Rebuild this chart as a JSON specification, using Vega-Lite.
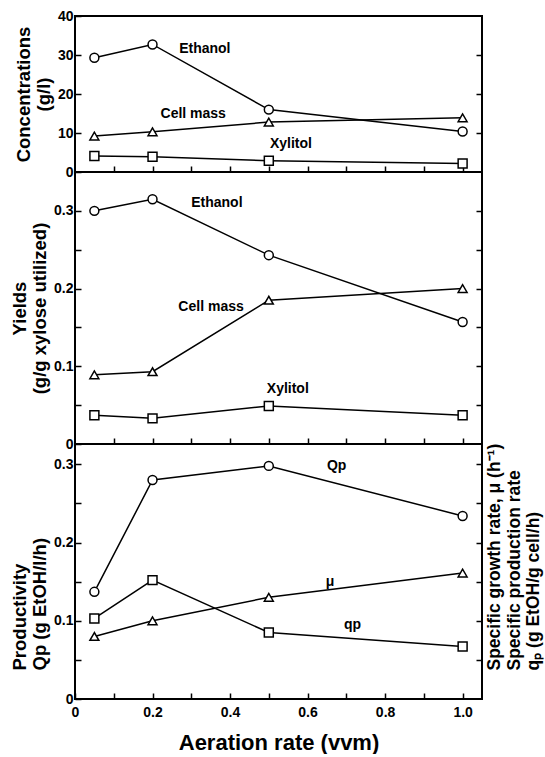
{
  "$schema": "https://vega.github.io/schema/vega-lite/v6.json",
  "background": "white",
  "padding": {"left": 9, "top": 8, "right": 2, "bottom": 0},
  "spacing": 0,
  "bounds": "flush",
  "config": {
    "font": "Liberation Sans",
    "view": {"stroke": "black", "strokeWidth": 2},
    "axis": {
      "domain": false,
      "grid": false,
      "tickColor": "black",
      "tickWidth": 1.5,
      "tickSize": -6,
      "labelFont": "Liberation Sans",
      "labelFontWeight": "bold",
      "labelFontSize": 14,
      "labelColor": "black",
      "labelPadding": 8,
      "labelFlush": false,
      "labelOverlap": false,
      "titleFont": "Liberation Sans",
      "titleFontWeight": "bold",
      "titleFontSize": 18.5,
      "titleColor": "black",
      "titleLineHeight": 20,
      "titlePadding": 4
    },
    "text": {"font": "Liberation Sans", "fontWeight": "bold", "fontSize": 14, "color": "black"}
  },
  "datasets": {
    "concentrations": [
      {"aeration": 0.05, "series": "Ethanol", "value": 29.3},
      {"aeration": 0.2, "series": "Ethanol", "value": 32.7},
      {"aeration": 0.5, "series": "Ethanol", "value": 16.0},
      {"aeration": 1.0, "series": "Ethanol", "value": 10.4},
      {"aeration": 0.05, "series": "Cell mass", "value": 9.2},
      {"aeration": 0.2, "series": "Cell mass", "value": 10.3},
      {"aeration": 0.5, "series": "Cell mass", "value": 12.8},
      {"aeration": 1.0, "series": "Cell mass", "value": 13.9},
      {"aeration": 0.05, "series": "Xylitol", "value": 4.1},
      {"aeration": 0.2, "series": "Xylitol", "value": 3.9},
      {"aeration": 0.5, "series": "Xylitol", "value": 2.9},
      {"aeration": 1.0, "series": "Xylitol", "value": 2.2}
    ],
    "concentration_labels": [
      {"aeration": 0.335, "value": 31.5, "label": "Ethanol"},
      {"aeration": 0.305, "value": 14.8, "label": "Cell mass"},
      {"aeration": 0.557, "value": 7.1, "label": "Xylitol"}
    ],
    "yields": [
      {"aeration": 0.05, "series": "Ethanol", "value": 0.300},
      {"aeration": 0.2, "series": "Ethanol", "value": 0.315},
      {"aeration": 0.5, "series": "Ethanol", "value": 0.243},
      {"aeration": 1.0, "series": "Ethanol", "value": 0.157},
      {"aeration": 0.05, "series": "Cell mass", "value": 0.089},
      {"aeration": 0.2, "series": "Cell mass", "value": 0.093},
      {"aeration": 0.5, "series": "Cell mass", "value": 0.185},
      {"aeration": 1.0, "series": "Cell mass", "value": 0.200},
      {"aeration": 0.05, "series": "Xylitol", "value": 0.037},
      {"aeration": 0.2, "series": "Xylitol", "value": 0.033},
      {"aeration": 0.5, "series": "Xylitol", "value": 0.049},
      {"aeration": 1.0, "series": "Xylitol", "value": 0.037}
    ],
    "yield_labels": [
      {"aeration": 0.366, "value": 0.31, "label": "Ethanol"},
      {"aeration": 0.351, "value": 0.176, "label": "Cell mass"},
      {"aeration": 0.549, "value": 0.071, "label": "Xylitol"}
    ],
    "productivity": [
      {"aeration": 0.05, "series": "Qp", "value": 0.137},
      {"aeration": 0.2, "series": "Qp", "value": 0.280},
      {"aeration": 0.5, "series": "Qp", "value": 0.298},
      {"aeration": 1.0, "series": "Qp", "value": 0.234},
      {"aeration": 0.05, "series": "mu", "value": 0.080},
      {"aeration": 0.2, "series": "mu", "value": 0.100},
      {"aeration": 0.5, "series": "mu", "value": 0.130},
      {"aeration": 1.0, "series": "mu", "value": 0.161},
      {"aeration": 0.05, "series": "qp", "value": 0.103},
      {"aeration": 0.2, "series": "qp", "value": 0.152},
      {"aeration": 0.5, "series": "qp", "value": 0.085},
      {"aeration": 1.0, "series": "qp", "value": 0.067}
    ],
    "productivity_labels": [
      {"aeration": 0.675, "value": 0.298, "label": "Qp", "style": "normal"},
      {"aeration": 0.658, "value": 0.150, "label": "μ", "style": "italic"},
      {"aeration": 0.716, "value": 0.094, "label": "qp", "style": "normal"}
    ]
  },
  "vconcat": [
    {
      "width": 407,
      "height": 156,
      "resolve": {"axis": {"y": "independent"}},
      "encoding": {
        "x": {"field": "aeration", "type": "quantitative", "scale": {"domain": [0, 1.05], "nice": false},
              "axis": {"values": [0.1, 0.2, 0.3, 0.4, 0.5, 0.6, 0.7, 0.8, 0.9, 1.0], "labels": false, "title": null}}
      },
      "layer": [
        {
          "data": {"name": "concentrations"},
          "mark": {"type": "line", "color": "black", "strokeWidth": 1.5},
          "encoding": {
            "y": {"field": "value", "type": "quantitative", "scale": {"domain": [0, 40], "nice": false},
                  "axis": {"values": [0, 10, 20, 30, 40], "title": ["Concentrations", "(g/l)"]}},
            "detail": {"field": "series"}
          }
        },
        {
          "data": {"name": "concentrations"},
          "mark": {"type": "point", "filled": true, "fill": "white", "stroke": "black", "strokeWidth": 1.5, "size": 80, "opacity": 1},
          "encoding": {
            "y": {"field": "value", "type": "quantitative",
                  "axis": {"orient": "right", "values": [10, 20, 30], "labels": false, "title": null}},
            "shape": {"field": "series", "type": "nominal", "legend": null,
                      "scale": {"domain": ["Ethanol", "Cell mass", "Xylitol"], "range": ["circle", "triangle-up", "square"]}}
          }
        },
        {
          "data": {"name": "concentration_labels"},
          "mark": {"type": "text"},
          "encoding": {
            "y": {"field": "value", "type": "quantitative", "axis": null},
            "text": {"field": "label"}
          }
        }
      ]
    },
    {
      "width": 407,
      "height": 272,
      "resolve": {"axis": {"y": "independent"}},
      "encoding": {
        "x": {"field": "aeration", "type": "quantitative", "scale": {"domain": [0, 1.05], "nice": false},
              "axis": {"values": [0.1, 0.2, 0.3, 0.4, 0.5, 0.6, 0.7, 0.8, 0.9, 1.0], "labels": false, "title": null}}
      },
      "layer": [
        {
          "data": {"name": "yields"},
          "mark": {"type": "line", "color": "black", "strokeWidth": 1.5},
          "encoding": {
            "y": {"field": "value", "type": "quantitative", "scale": {"domain": [0, 0.35], "nice": false},
                  "axis": {"values": [0, 0.05, 0.1, 0.15, 0.2, 0.25, 0.3],
                           "labelExpr": "round(datum.value * 100) % 10 == 0 ? (datum.value == 0 ? '0' : format(datum.value, '.1f')) : ''",
                           "title": ["Yields", "(g/g xylose utilized)"]}},
            "detail": {"field": "series"}
          }
        },
        {
          "data": {"name": "yields"},
          "mark": {"type": "point", "filled": true, "fill": "white", "stroke": "black", "strokeWidth": 1.5, "size": 80, "opacity": 1},
          "encoding": {
            "y": {"field": "value", "type": "quantitative",
                  "axis": {"orient": "right", "values": [0.05, 0.1, 0.15, 0.2, 0.25, 0.3], "labels": false, "title": null}},
            "shape": {"field": "series", "type": "nominal", "legend": null,
                      "scale": {"domain": ["Ethanol", "Cell mass", "Xylitol"], "range": ["circle", "triangle-up", "square"]}}
          }
        },
        {
          "data": {"name": "yield_labels"},
          "mark": {"type": "text"},
          "encoding": {
            "y": {"field": "value", "type": "quantitative", "axis": null},
            "text": {"field": "label"}
          }
        }
      ]
    },
    {
      "width": 407,
      "height": 255,
      "resolve": {"axis": {"y": "independent"}},
      "encoding": {
        "x": {"field": "aeration", "type": "quantitative", "scale": {"domain": [0, 1.05], "nice": false},
              "axis": {"values": [0, 0.1, 0.2, 0.3, 0.4, 0.5, 0.6, 0.7, 0.8, 0.9, 1.0],
                       "labelExpr": "round(datum.value * 10) % 2 == 0 ? (datum.value == 0 ? '0' : format(datum.value, '.1f')) : ''",
                       "labelPadding": 12,
                       "title": "Aeration rate (vvm)", "titleFontSize": 22, "titlePadding": 13}}
      },
      "layer": [
        {
          "data": {"name": "productivity"},
          "mark": {"type": "line", "color": "black", "strokeWidth": 1.5},
          "encoding": {
            "y": {"field": "value", "type": "quantitative", "scale": {"domain": [0, 0.326], "nice": false},
                  "axis": {"values": [0, 0.05, 0.1, 0.15, 0.2, 0.25, 0.3],
                           "labelExpr": "round(datum.value * 100) % 10 == 0 ? (datum.value == 0 ? '0' : format(datum.value, '.1f')) : ''",
                           "title": ["Productivity", "Qp (g EtOH/l/h)"],
                           "titleAlign": "left", "titleY": 226}},
            "detail": {"field": "series"}
          }
        },
        {
          "data": {"name": "productivity"},
          "mark": {"type": "point", "filled": true, "fill": "white", "stroke": "black", "strokeWidth": 1.5, "size": 80, "opacity": 1},
          "encoding": {
            "y": {"field": "value", "type": "quantitative",
                  "axis": {"orient": "right", "values": [0.05, 0.1, 0.15, 0.2, 0.25, 0.3], "labels": false, "labelPadding": 0,
                           "title": ["Specific growth rate, μ (h⁻¹)", "Specific production rate", "qₚ (g EtOH/g cell/h)"],
                           "titleAngle": 270, "titleBaseline": "bottom", "titleAlign": "left", "titleY": 226,
                           "titleFontSize": 17.5, "titleLineHeight": 19.5, "titlePadding": -18}},
            "shape": {"field": "series", "type": "nominal", "legend": null,
                      "scale": {"domain": ["Qp", "mu", "qp"], "range": ["circle", "triangle-up", "square"]}}
          }
        },
        {
          "data": {"name": "productivity_labels"},
          "mark": {"type": "text"},
          "encoding": {
            "y": {"field": "value", "type": "quantitative", "axis": null},
            "text": {"field": "label"},
            "fontStyle": {"field": "style", "type": "nominal", "scale": null}
          }
        }
      ]
    }
  ]
}
